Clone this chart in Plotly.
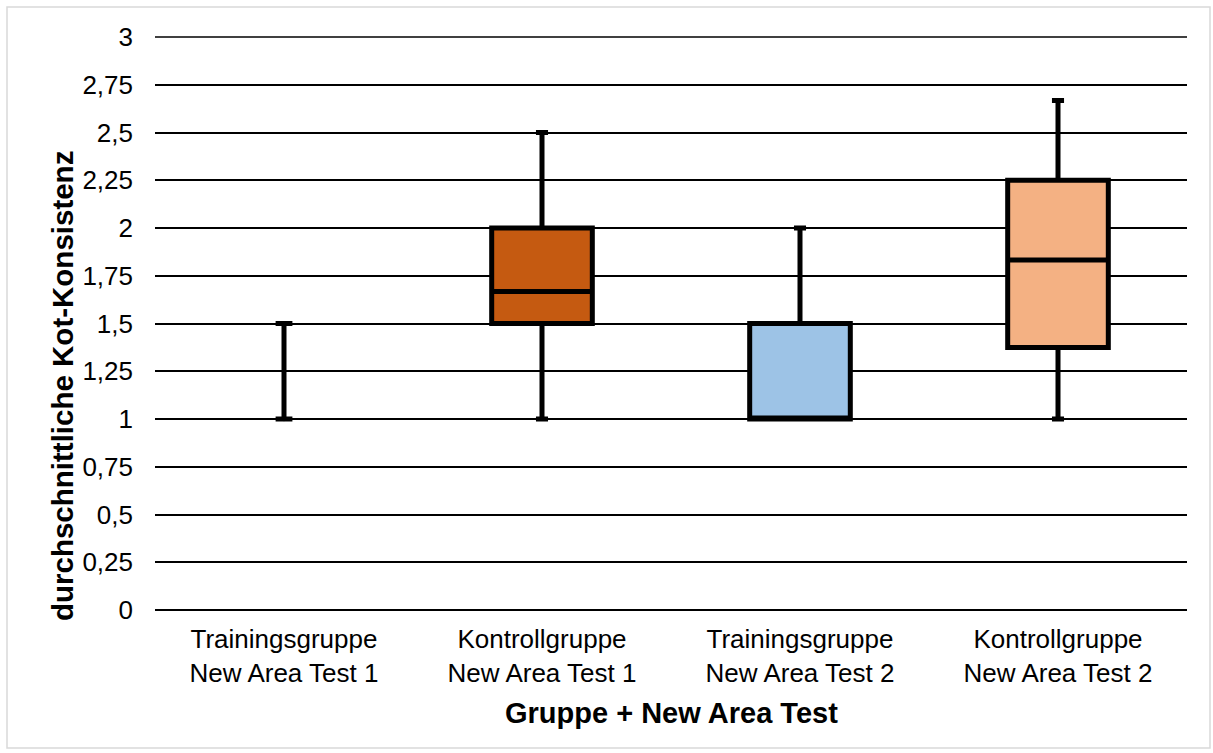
import plotly.graph_objects as go

categories = ["Trainingsgruppe<br>New Area Test 1", "Kontrollgruppe<br>New Area Test 1",
              "Trainingsgruppe<br>New Area Test 2", "Kontrollgruppe<br>New Area Test 2"]
minimum = [1.0, 1.0, 1.0, 1.0]
q1 = [1.0, 1.5, 1.0, 1.375]
median = [1.0, 1.667, 1.0, 1.833]
q3 = [1.0, 2.0, 1.5, 2.25]
maximum = [1.5, 2.5, 2.0, 2.667]
colors = ["rgba(0,0,0,0)", "#C55A11", "#9DC3E6", "#F4B183"]
box_widths = [0.001, 0.39, 0.39, 0.39]

y_max = 3
tick_vals = [0, 0.25, 0.5, 0.75, 1, 1.25, 1.5, 1.75, 2, 2.25, 2.5, 2.75, 3]
tick_text = ["0", "0,25", "0,5", "0,75", "1", "1,25", "1,5", "1,75", "2", "2,25", "2,5", "2,75", "3"]

FONT = "Liberation Sans, Arial, sans-serif"

fig = go.Figure()
for i, c in enumerate(categories):
    fig.add_trace(go.Box(
        x=[c], q1=[q1[i]], median=[median[i]], q3=[q3[i]],
        lowerfence=[minimum[i]], upperfence=[maximum[i]],
        width=box_widths[i], whiskerwidth=0.12,
        fillcolor=colors[i], line=dict(color="black", width=5),
        boxpoints=False, showlegend=False, hoverinfo="skip",
    ))

# caps for the degenerate first box (no visible box)
fig.add_trace(go.Scatter(
    x=[categories[0], categories[0]], y=[minimum[0], maximum[0]],
    mode="markers",
    marker=dict(symbol="line-ew", size=12, line=dict(color="black", width=5)),
    showlegend=False, hoverinfo="skip",
))

W, H = 1213, 753
L, R, T, B = 155, 26, 37, 143
pw, ph = W - L - R, H - T - B

fig.update_layout(
    width=W, height=H,
    margin=dict(l=L, r=R, t=T, b=B),
    paper_bgcolor="white", plot_bgcolor="white",
    font=dict(family=FONT, size=25, color="black"),
    boxmode="overlay",
    xaxis=dict(
        type="category", categoryorder="array", categoryarray=categories,
        range=[-0.5, 3.5],
        showgrid=False, showline=False, ticks="", zeroline=False,
        tickfont=dict(size=26), ticklabelstandoff=11,
    ),
    yaxis=dict(
        range=[0, y_max], tickvals=tick_vals, ticktext=tick_text,
        showgrid=True, gridcolor="black", gridwidth=1.5,
        zeroline=True, zerolinecolor="black", zerolinewidth=1.5,
        showline=False, ticks="", tickfont=dict(size=26), ticklabelstandoff=21,
    ),
    annotations=[
        dict(text="<b>Gruppe + New Area Test</b>", xref="paper", yref="paper",
             x=0.5, y=(-(713 - (T + ph)) / ph), xanchor="center", yanchor="middle",
             showarrow=False, font=dict(size=29, family=FONT)),
        dict(text="<b>durchschnittliche Kot-Konsistenz</b>", xref="paper", yref="paper",
             x=(62 - L) / pw, y=((T + ph) - 386) / ph, xanchor="center", yanchor="middle",
             textangle=-90, showarrow=False, font=dict(size=29.5, family=FONT)),
    ],
    shapes=[
        dict(type="rect", xref="paper", yref="paper", layer="below",
             x0=(7 - L) / pw, x1=(1210 - L) / pw,
             y0=((T + ph) - 748) / ph, y1=((T + ph) - 7) / ph,
             line=dict(color="#D9D9D9", width=1.5), fillcolor="rgba(0,0,0,0)"),
        # top gridline at the upper edge of the value range (paper y = 1 <=> y_max)
        dict(type="line", xref="paper", yref="paper", layer="below",
             x0=0, x1=1, y0=1, y1=1,
             line=dict(color="black", width=1.5)),
    ],
)

fig.write_html("out.html", config={"displayModeBar": False},
               post_script="document.body.style.margin='0';document.body.style.padding='0';")
